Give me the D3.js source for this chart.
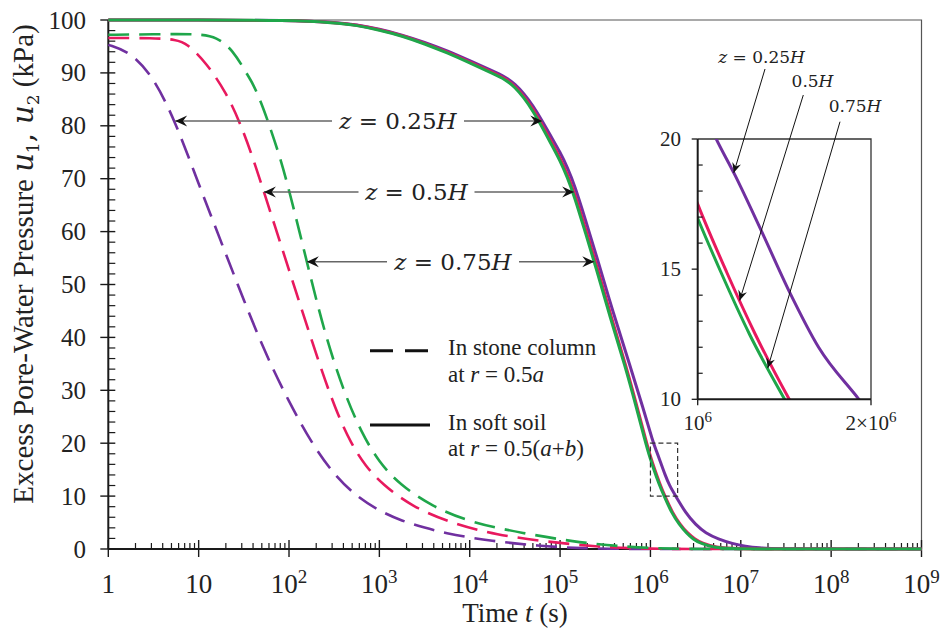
<!DOCTYPE html>
<html>
<head>
<meta charset="utf-8">
<script src="https://cdn.jsdelivr.net/npm/d3@7"></script>
<style>
  body { margin: 0; background: #fff; }
  svg text { font-family: "Liberation Serif", "Times New Roman", serif; fill: #222; }
  svg text.math, svg text .math { font-family: "DejaVu Serif", serif; }
</style>
</head>
<body>
<svg id="chart" width="947" height="634" font-family="Liberation Serif"></svg>
<script>
// ---- Data: excess pore-water pressure (kPa) against log10 of time (s) ----
// Soft soil, r = 0.5(a+b)  (solid lines)
const soil025LogT = [0, 1, 2, 2.5, 2.75, 3, 3.25, 3.5, 3.75, 4, 4.25, 4.4, 4.5, 4.6, 4.7, 4.8, 4.9, 5, 5.08, 5.16, 5.28, 5.4, 5.59, 5.77, 5.92, 6.03, 6.065, 6.11, 6.16, 6.21, 6.28, 6.39, 6.5, 6.61, 6.75, 6.91, 7.05, 7.2, 7.4, 8, 9];
const soil025U    = [100, 100, 99.95, 99.6, 99.1, 98.3, 97.2, 95.8, 94.2, 92.3, 90.4, 89.2, 87.9, 86.1, 83.8, 81.0, 78.0, 75.0, 72.2, 68.8, 62.3, 55.6, 44.5, 34.9, 26.6, 20.1, 18.6, 16.5, 14.1, 12.0, 10.0, 6.8, 4.6, 3.0, 1.9, 1.0, 0.5, 0.2, 0.05, 0, 0];
const soil050LogT = [0, 1, 2, 2.5, 2.75, 3, 3.25, 3.5, 3.75, 4, 4.25, 4.4, 4.5, 4.6, 4.7, 4.8, 4.9, 5, 5.08, 5.16, 5.28, 5.4, 5.56, 5.73, 5.86, 5.95, 6.0, 6.05, 6.1, 6.159, 6.245, 6.33, 6.41, 6.49, 6.57, 6.72, 6.95, 7.3, 8, 9];
const soil050U    = [100, 100, 99.95, 99.55, 99.05, 98.2, 97.1, 95.6, 93.95, 92.05, 90.1, 88.9, 87.5, 85.6, 83.2, 80.2, 77.1, 73.9, 70.9, 67.3, 60.6, 53.9, 44.2, 34.6, 26.4, 20.5, 17.5, 14.9, 12.5, 10.0, 6.8, 4.6, 3.0, 1.9, 1.1, 0.3, 0.05, 0, 0, 0];
const soil075LogT = [0, 1, 2, 2.5, 2.75, 3, 3.25, 3.5, 3.75, 4, 4.25, 4.4, 4.5, 4.6, 4.7, 4.8, 4.9, 5, 5.08, 5.16, 5.28, 5.4, 5.55, 5.72, 5.85, 5.94, 5.99, 6.04, 6.09, 6.151, 6.235, 6.32, 6.40, 6.47, 6.55, 6.69, 6.9, 7.2, 8, 9];
const soil075U    = [100, 100, 99.95, 99.5, 99.0, 98.1, 97.0, 95.5, 93.8, 91.9, 89.9, 88.7, 87.3, 85.3, 82.8, 79.8, 76.6, 73.4, 70.3, 66.6, 59.8, 53.1, 44.0, 34.6, 26.4, 20.5, 17.5, 14.9, 12.5, 10.0, 6.8, 4.6, 3.0, 1.9, 1.1, 0.3, 0.05, 0, 0, 0];

// Stone column, r = 0.5a  (dashed lines)
const col025LogT = [0, 0.25, 0.5, 0.74, 1.0, 1.25, 1.5, 1.75, 2.0, 2.25, 2.5, 2.75, 3.0, 3.25, 3.5, 3.75, 4.0, 4.25, 4.5, 4.75, 5.0, 5.25, 5.5, 6, 7, 9];
const col025U    = [95.3, 93.9, 89.2, 80.9, 69, 58, 47, 36.5, 27.8, 20.0, 14.0, 9.9, 7.2, 5.3, 4.0, 2.95, 2.15, 1.55, 1.05, 0.65, 0.35, 0.15, 0.05, 0, 0, 0];
const col050LogT = [0, 0.5, 0.75, 0.87, 1.09, 1.31, 1.46, 1.6, 1.72, 1.83, 2.01, 2.1, 2.32, 2.51, 2.69, 2.85, 3.03, 3.35, 3.8, 4.3, 4.85, 5.4, 5.9, 7, 9];
const col050U    = [96.6, 96.6, 96.3, 95.6, 91.8, 86.1, 80.5, 74.0, 67.6, 61.8, 52.2, 47.4, 35.8, 26.5, 19.8, 15.6, 12.3, 8.1, 4.86, 2.65, 1.38, 0.44, 0, 0, 0];
const col075LogT = [0, 0.5, 1.0, 1.2, 1.38, 1.53, 1.6, 1.68, 1.75, 1.9, 2.01, 2.12, 2.23, 2.4, 2.6, 2.8, 3.0, 3.22, 3.58, 4.04, 4.59, 5.14, 5.68, 6.23, 7, 9];
const col075U    = [97.2, 97.3, 97.4, 96.8, 94.3, 89.9, 88.0, 84.9, 81.7, 74.2, 67.2, 59.7, 52.0, 40.5, 30.0, 22.0, 16.3, 12.3, 8.0, 4.86, 3.0, 1.38, 0.44, 0, 0, 0];

// Axis ticks
const yMajorTicks = [0, 10, 20, 30, 40, 50, 60, 70, 80, 90, 100];
const xDecadeExponents = [0, 1, 2, 3, 4, 5, 6, 7, 8, 9];
const insetYTicks = [10, 15, 20];
const insetXTicks = [1e6, 2e6];

// Depth labels
const depthLabels = ["0.25", "0.5", "0.75"];
const depthColors = ["#7030A0", "#E8195E", "#1FA64A"];

// ---- Layout ----
const svg = d3.select("#chart");
const x = d3.scaleLog().domain([1, 1e9]).range([108.3, 921.5]);
const y = d3.scaleLinear().domain([0, 100]).range([549, 20]);
const axisColor = "#1a1a1a";

const pts = (T, U) => T.map((t, i) => [Math.pow(10, t), U[i]]);
const soilSeries = [pts(soil025LogT, soil025U), pts(soil050LogT, soil050U), pts(soil075LogT, soil075U)];
const colSeries  = [pts(col025LogT, col025U), pts(col050LogT, col050U), pts(col075LogT, col075U)];

// time at which a series first falls to u (interpolated in log time)
function timeAt(series, u) {
  for (let i = 0; i < series.length - 1; i++) {
    const [t0, u0] = series[i], [t1, u1] = series[i + 1];
    if (u0 >= u && u1 <= u && u0 !== u1) {
      const f = (u0 - u) / (u0 - u1);
      return Math.pow(10, Math.log10(t0) + f * (Math.log10(t1) - Math.log10(t0)));
    }
  }
  return null;
}

// arrowhead markers
const defs = svg.append("defs");
function addMarker(id, len, half) {
  defs.append("marker").attr("id", id)
    .attr("markerUnits", "userSpaceOnUse")
    .attr("viewBox", `${-len - 1} ${-half - 1} ${len + 2} ${2 * half + 2}`)
    .attr("refX", 0).attr("refY", 0)
    .attr("markerWidth", len + 2).attr("markerHeight", 2 * half + 2)
    .attr("orient", "auto")
    .append("path")
    .attr("d", `M0,0 L${-len},${-half} L${-len * 0.65},0 L${-len},${half} Z`)
    .attr("fill", "#111");
}
addMarker("head", 12, 5.5);
addMarker("headSmall", 10, 4.5);

// ---- Frame and axes ----
const gAxes = svg.append("g");
gAxes.append("path").attr("d", `M${x(1)},${y(100)} H${x(1e9)} V${y(0)}`)
  .attr("fill", "none").attr("stroke", "#555").attr("stroke-width", 1.2);
gAxes.append("line").attr("x1", x(1)).attr("x2", x(1)).attr("y1", y(100)).attr("y2", y(0))
  .attr("stroke", axisColor).attr("stroke-width", 2);
gAxes.append("line").attr("x1", x(1)).attr("x2", x(1e9)).attr("y1", y(0)).attr("y2", y(0))
  .attr("stroke", axisColor).attr("stroke-width", 2);

// y ticks
yMajorTicks.forEach(v => {
  gAxes.append("line").attr("x1", x(1) - 8).attr("x2", x(1) + 7)
    .attr("y1", y(v)).attr("y2", y(v)).attr("stroke", axisColor).attr("stroke-width", 1.4);
  gAxes.append("text").attr("x", 86).attr("y", y(v) + 8.5)
    .attr("text-anchor", "end").attr("font-size", 25).text(v);
});
d3.range(0, 101, 2).filter(v => v % 10 !== 0).forEach(v => {
  gAxes.append("line").attr("x1", x(1)).attr("x2", x(1) + 7)
    .attr("y1", y(v)).attr("y2", y(v)).attr("stroke", axisColor).attr("stroke-width", 1.2);
});

// x ticks
xDecadeExponents.forEach(k => {
  const t = Math.pow(10, k);
  gAxes.append("line").attr("x1", x(t)).attr("x2", x(t))
    .attr("y1", y(0) - 9).attr("y2", y(0) + 8).attr("stroke", axisColor).attr("stroke-width", 1.4);
  const lbl = gAxes.append("text").attr("x", x(t)).attr("y", 593)
    .attr("text-anchor", "middle").attr("font-size", 27);
  if (k === 0) lbl.text("1");
  else if (k === 1) lbl.text("10");
  else {
    lbl.append("tspan").text("10");
    lbl.append("tspan").attr("font-size", 19).attr("dy", -10).text(k);
  }
  if (k < 9) {
    for (let m = 2; m <= 9; m++) {
      gAxes.append("line").attr("x1", x(m * t)).attr("x2", x(m * t))
        .attr("y1", y(0) - 6).attr("y2", y(0)).attr("stroke", axisColor).attr("stroke-width", 1.2);
    }
  }
});

// axis titles
const xTitle = gAxes.append("text").attr("x", 515).attr("y", 622)
  .attr("text-anchor", "middle").attr("font-size", 27);
xTitle.append("tspan").text("Time ");
xTitle.append("tspan").attr("font-style", "italic").text("t");
xTitle.append("tspan").text(" (s)");

const yTitle = gAxes.append("text")
  .attr("transform", "translate(33,264) rotate(-90)")
  .attr("text-anchor", "middle").attr("font-size", 29);
yTitle.append("tspan").text("Excess Pore-Water Pressure ");
yTitle.append("tspan").attr("class", "math").attr("font-style", "italic").text("u");
yTitle.append("tspan").attr("class", "math").attr("font-size", 17).attr("dy", 6).text("1");
yTitle.append("tspan").attr("class", "math").attr("dy", -6).text(", ");
yTitle.append("tspan").attr("class", "math").attr("font-style", "italic").text("u");
yTitle.append("tspan").attr("class", "math").attr("font-size", 17).attr("dy", 6).text("2");
yTitle.append("tspan").attr("dy", -6).text(" (kPa)");

// ---- Curves (B-spline through the sampled values) ----
const line = d3.line().x(d => x(d[0])).y(d => y(d[1])).curve(d3.curveBasis);
const gCurves = svg.append("g").attr("fill", "none");
colSeries.forEach((s, i) => {
  gCurves.append("path").attr("d", line(s)).attr("stroke", depthColors[i])
    .attr("stroke-width", 2.6).attr("stroke-dasharray", "21,10");
});
soilSeries.forEach((s, i) => {
  gCurves.append("path").attr("d", line(s)).attr("stroke", depthColors[i])
    .attr("stroke-width", 3);
});

// zoom window marker
svg.append("rect").attr("x", x(1e6)).attr("y", y(20))
  .attr("width", x(2e6) - x(1e6)).attr("height", y(10) - y(20))
  .attr("fill", "none").attr("stroke", "#333").attr("stroke-width", 1.2)
  .attr("stroke-dasharray", "5,3");

// ---- Depth annotations with double arrows ----
const annY = [80.9, 67.5, 54.3];
const annTextX = [398, 416.5, 453];
const annTextHalf = [66, 58, 66];
const gAnn = svg.append("g");
depthLabels.forEach((lab, i) => {
  const yy = y(annY[i]);
  const tLeft = timeAt(colSeries[i], annY[i]);
  const tRight = timeAt(soilSeries[i], annY[i]);
  gAnn.append("line").attr("x1", annTextX[i] - annTextHalf[i]).attr("x2", x(tLeft))
    .attr("y1", yy).attr("y2", yy).attr("stroke", "#666").attr("stroke-width", 1.4)
    .attr("marker-end", "url(#head)");
  gAnn.append("line").attr("x1", annTextX[i] + annTextHalf[i]).attr("x2", x(tRight))
    .attr("y1", yy).attr("y2", yy).attr("stroke", "#666").attr("stroke-width", 1.4)
    .attr("marker-end", "url(#head)");
  const tx = gAnn.append("text").attr("class", "math").attr("x", annTextX[i]).attr("y", yy + 8)
    .attr("text-anchor", "middle").attr("font-size", 23).attr("xml:space", "preserve");
  tx.append("tspan").attr("font-style", "italic").text("z");
  tx.append("tspan").text(" = " + lab);
  tx.append("tspan").attr("font-style", "italic").text("H");
});

// ---- Legend ----
const gLeg = svg.append("g");
gLeg.append("line").attr("x1", 370).attr("x2", 429).attr("y1", 350.7).attr("y2", 350.7)
  .attr("stroke", "#111").attr("stroke-width", 3).attr("stroke-dasharray", "23,12");
gLeg.append("line").attr("x1", 370).attr("x2", 430).attr("y1", 425).attr("y2", 425)
  .attr("stroke", "#111").attr("stroke-width", 3);
function legendText(yb, parts) {
  const t = gLeg.append("text").attr("x", 448).attr("y", yb).attr("font-size", 23)
    .attr("xml:space", "preserve");
  parts.forEach(p => {
    const s = t.append("tspan").text(p[0]);
    if (p[1]) s.attr("font-style", "italic");
  });
}
legendText(355, [["In stone column"]]);
legendText(381.7, [["at "], ["r", 1], [" = 0.5"], ["a", 1]]);
legendText(429.5, [["In soft soil"]]);
legendText(456, [["at "], ["r", 1], [" = 0.5("], ["a", 1], ["+"], ["b", 1], [")"]]);

// ---- Inset: 10^6 to 2x10^6 s, 10 to 20 kPa ----
const xi = d3.scaleLog().domain([1e6, 2e6]).range([697.7, 871]);
const yi = d3.scaleLinear().domain([10, 20]).range([399.3, 139]);
const gIn = svg.append("g");
defs.append("clipPath").attr("id", "insetClip").append("rect")
  .attr("x", xi(1e6)).attr("y", yi(20)).attr("width", xi(2e6) - xi(1e6)).attr("height", yi(10) - yi(20));
gIn.append("path").attr("d", `M${xi(1e6)},${yi(20)} H${xi(2e6)} V${yi(10)}`)
  .attr("fill", "none").attr("stroke", "#333").attr("stroke-width", 1.3);
const lineIn = d3.line().x(d => xi(d[0])).y(d => yi(d[1])).curve(d3.curveMonotoneX);
const gInCurves = gIn.append("g").attr("clip-path", "url(#insetClip)").attr("fill", "none");
soilSeries.forEach((s, i) => {
  gInCurves.append("path").attr("d", lineIn(s)).attr("stroke", depthColors[i]).attr("stroke-width", 3);
});
gIn.append("line").attr("x1", xi(1e6)).attr("x2", xi(1e6)).attr("y1", yi(20)).attr("y2", yi(10))
  .attr("stroke", axisColor).attr("stroke-width", 2);
gIn.append("line").attr("x1", xi(1e6)).attr("x2", xi(2e6)).attr("y1", yi(10)).attr("y2", yi(10))
  .attr("stroke", axisColor).attr("stroke-width", 2);
insetYTicks.forEach(v => {
  gIn.append("line").attr("x1", xi(1e6) - 6).attr("x2", xi(1e6)).attr("y1", yi(v)).attr("y2", yi(v))
    .attr("stroke", axisColor).attr("stroke-width", 1.3);
  gIn.append("text").attr("x", 681).attr("y", yi(v) + 7).attr("text-anchor", "end")
    .attr("font-size", 21).text(v);
});
d3.range(11, 20).filter(v => v !== 15).forEach(v => {
  gIn.append("line").attr("x1", xi(1e6)).attr("x2", xi(1e6) + 5).attr("y1", yi(v)).attr("y2", yi(v))
    .attr("stroke", axisColor).attr("stroke-width", 1.2);
});
insetXTicks.forEach((t, i) => {
  gIn.append("line").attr("x1", xi(t)).attr("x2", xi(t)).attr("y1", yi(10)).attr("y2", yi(10) + 6)
    .attr("stroke", axisColor).attr("stroke-width", 1.3);
  const lbl = gIn.append("text").attr("x", xi(t)).attr("y", 430).attr("text-anchor", "middle")
    .attr("font-size", 21);
  lbl.append("tspan").text(i === 0 ? "10" : "2×10");
  lbl.append("tspan").attr("font-size", 15).attr("dy", -8).text("6");
});

// inset depth pointers
const insetTipU = [18.7, 13.8, 11.2];
const insetTextPos = [[761.5, 63], [812.5, 87], [855, 112]];
const insetLineStart = [[765, 69], [803.3, 95], [840, 121.7]];
depthLabels.forEach((lab, i) => {
  const tt = timeAt(soilSeries[i], insetTipU[i]);
  gIn.append("line").attr("x1", insetLineStart[i][0]).attr("y1", insetLineStart[i][1])
    .attr("x2", xi(tt)).attr("y2", yi(insetTipU[i]))
    .attr("stroke", "#111").attr("stroke-width", 1).attr("marker-end", "url(#headSmall)");
  const tx = gIn.append("text").attr("class", "math").attr("x", insetTextPos[i][0]).attr("y", insetTextPos[i][1])
    .attr("text-anchor", "middle").attr("font-size", 17).attr("xml:space", "preserve");
  if (i === 0) {
    tx.append("tspan").attr("font-style", "italic").text("z");
    tx.append("tspan").text(" = " + lab);
  } else {
    tx.append("tspan").text(lab);
  }
  tx.append("tspan").attr("font-style", "italic").text("H");
});
</script>
</body>
</html>
